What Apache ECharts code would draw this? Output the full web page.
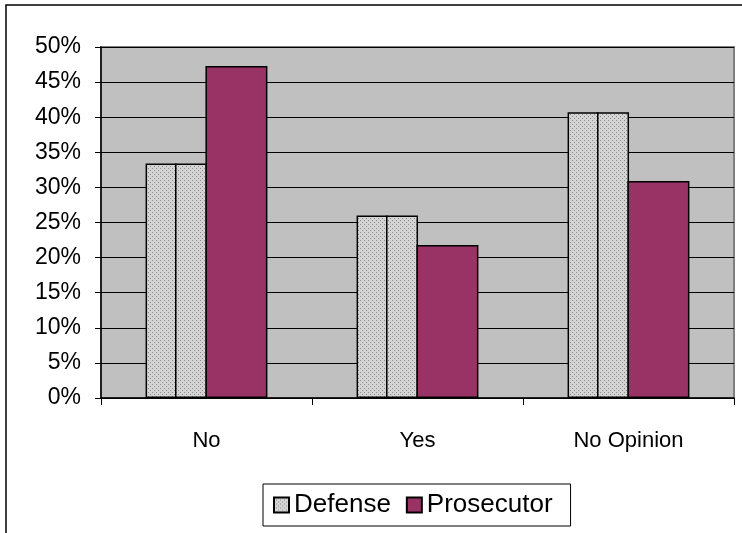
<!DOCTYPE html>
<html>
<head>
<meta charset="utf-8">
<script src="https://cdn.jsdelivr.net/npm/echarts@6/dist/echarts.min.js"></script>
<style>
  html, body { margin: 0; padding: 0; background: #fff; }
  #chart { width: 742px; height: 533px; }
</style>
</head>
<body>
<div id="chart"></div>
<script>
// data (percent)
var categories = ['No', 'Yes', 'No Opinion'];
var defense = [33.4, 26.0, 40.7];
var prosecutor = [47.3, 21.8, 30.9];

// dotted fill for the Defense bars
var pat = document.createElement('canvas');
pat.width = 4; pat.height = 4;
var pctx = pat.getContext('2d');
pctx.fillStyle = '#d4d4d4';
pctx.fillRect(0, 0, 4, 4);
pctx.fillStyle = '#8a8a8a';
pctx.fillRect(0, 0, 1, 1);
pctx.fillRect(2, 2, 1, 1);
var dots = { image: pat, repeat: 'repeat' };

var font = 'Liberation Sans';
var chart = echarts.init(document.getElementById('chart'), null, { renderer: 'canvas' });

// Defense is drawn as two half bars so the thin middle divider shows, like the original
// (small negative gap so neighbouring borders merge into one line)
var option = {
    animation: false,
    textStyle: { fontFamily: font, color: '#000' },
    graphic: [
        {
            type: 'rect',
            shape: { x: 6, y: 5, width: 800, height: 600 },
            style: { fill: 'none', stroke: '#000', lineWidth: 1.5 },
            silent: true
        }
    ],
    grid: {
        left: 101,
        right: 8,
        top: 47,
        bottom: 135,
        show: true,
        backgroundColor: '#c0c0c0',
        borderColor: '#808080',
        borderWidth: 2
    },
    legend: {
        data: ['Defense', 'Prosecutor'],
        left: 263,
        top: 484,
        padding: [8, 18, 8, 10],
        itemGap: 15,
        itemWidth: 15,
        itemHeight: 15,
        icon: 'rect',
        backgroundColor: '#fff',
        borderColor: '#000',
        borderWidth: 1,
        textStyle: { fontFamily: font, fontSize: 26, color: '#000' }
    },
    xAxis: {
        type: 'category',
        data: categories,
        axisLine: { show: true, lineStyle: { color: '#000', width: 1.5 } },
        axisTick: { show: true, inside: false, length: 7, lineStyle: { color: '#000' } },
        axisLabel: { fontFamily: font, fontSize: 22, color: '#000', margin: 32 },
        splitLine: { show: false }
    },
    yAxis: {
        type: 'value',
        min: 0,
        max: 50,
        interval: 5,
        axisLine: { show: true, lineStyle: { color: '#000', width: 1.5 } },
        axisTick: { show: true, inside: false, length: 6, lineStyle: { color: '#000' } },
        axisLabel: { fontFamily: font, fontSize: 23, color: '#000', margin: 20, formatter: '{value}%' },
        splitLine: { show: true, lineStyle: { color: '#000', width: 1.2 } }
    },
    series: [
        {
            name: 'Defense',
            type: 'bar',
            data: defense,
            barWidth: 31,
            barGap: '-5%',
            itemStyle: { color: dots, borderColor: '#000', borderWidth: 1.5 }
        },
        {
            name: 'Defense',
            type: 'bar',
            data: defense,
            barWidth: 32,
            barGap: '-5%',
            itemStyle: { color: dots, borderColor: '#000', borderWidth: 1.5 }
        },
        {
            name: 'Prosecutor',
            type: 'bar',
            data: prosecutor,
            barWidth: 62,
            barGap: '-5%',
            itemStyle: { color: '#993366', borderColor: '#000', borderWidth: 1.5 }
        }
    ]
};
chart.setOption(option);
</script>
</body>
</html>
